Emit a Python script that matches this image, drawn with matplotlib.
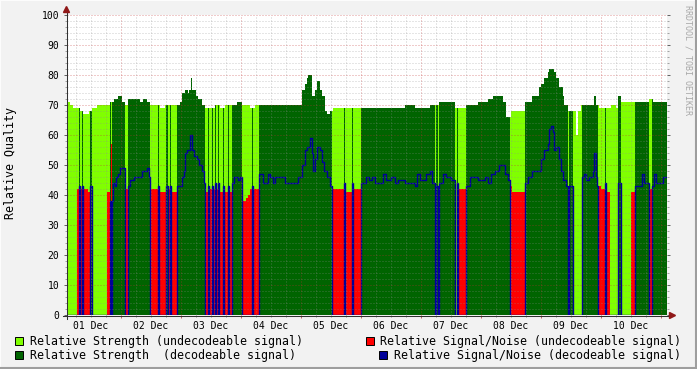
import numpy as np
import matplotlib
matplotlib.use("Agg")
import matplotlib.pyplot as plt
from matplotlib.patches import Rectangle, Polygon
from matplotlib.lines import Line2D
from matplotlib.ticker import MultipleLocator, FuncFormatter, NullFormatter

nan = np.nan

# time axis: hours since 01 Dec 00:00
t_start, t_end = 2.4, 242.4

# relative strength, step values (start hour, value)
strength_steps = [
    (2.4, 71), (3.6, 70), (4.8, 69), (7.6, 68), (8.8, 67), (11.2, 68), (12.4, 69), (14.4, 70),
    (19.6, 71), (21.2, 72), (22.8, 73), (24.4, 71), (25.6, 70), (26.8, 72), (31.6, 71), (32.8, 72),
    (34.4, 71), (35.6, 70), (39.6, 69), (41.6, 70), (47.6, 71),
    (48.4, 74), (49.6, 75), (50.8, 74), (51.2, 75), (52.0, 79), (52.4, 75), (54.0, 73), (54.8, 72),
    (56.4, 70), (57.6, 69), (61.6, 70), (63.6, 69), (65.6, 70), (70.4, 71), (72.4, 70), (75.6, 69), (77.6, 70),
    (96.4, 75), (97.6, 77), (98.4, 79), (98.8, 80), (100.4, 73), (101.6, 75), (102.4, 78), (103.6, 75),
    (104.4, 73), (105.6, 68), (106.4, 67), (107.6, 68), (108.8, 69),
    (137.6, 70), (141.6, 69), (147.6, 70), (151.2, 71), (157.6, 69), (162.0, 70), (166.8, 71), (170.8, 72),
    (172.8, 73), (176.8, 71), (178.0, 66), (180.0, 68), (185.6, 71), (188.4, 73),
    (191.2, 76), (192.0, 77), (193.2, 79), (194.8, 81), (195.2, 82), (197.2, 81), (198.0, 79), (199.2, 76),
    (200.8, 73), (201.2, 70), (202.8, 68), (206.0, 60), (206.8, 68), (208.0, 70), (213.2, 73), (214.0, 70),
    (215.2, 69), (220.0, 70), (222.0, 69), (222.8, 73), (224.0, 71), (235.2, 72), (236.8, 71),
]

# relative signal/noise, step values (start hour, value)
snr_steps = [
    (2.4, nan), (6.4, 42), (7.2, 43), (7.6, 42), (8.4, 43), (8.8, 42), (10.8, 41), (11.6, 43), (12.4, 40),
    (12.8, nan), (18.4, 41),
    (19.6, 38), (20.0, 57), (20.4, 38), (20.8, 44), (21.6, 43), (22.0, 46), (22.8, 47), (23.6, 49), (25.6, 42),
    (26.8, 43), (27.6, 45), (29.2, 46), (32.4, 48), (34.4, 49), (35.2, 46), (35.6, 42), (38.8, 43), (39.2, 41),
    (42.0, 43), (42.8, 42), (43.6, 43), (44.0, 41),
    (46.4, 43), (48.4, 46), (49.2, 48), (49.6, 54), (50.4, 55), (51.6, 60), (52.4, 55), (53.2, 53), (54.4, 52),
    (55.2, 50), (56.4, 48), (57.2, 44),
    (57.6, 41), (58.8, 43), (59.2, 42), (60.4, 43), (60.8, 42), (61.6, 44), (62.0, 42), (62.8, 44), (63.2, 41),
    (64.8, 43), (65.2, 41), (66.8, 43), (67.2, 41),
    (68.4, 44), (69.2, 46), (70.8, 45), (71.6, 46), (72.4, 38), (74.0, 39), (74.8, 40), (75.6, 42), (76.4, 43),
    (76.8, 42),
    (79.2, 47), (80.8, 44), (82.8, 47), (83.6, 46), (84.8, 44), (85.6, 46), (89.6, 44), (94.8, 46), (96.4, 50),
    (97.6, 55), (98.4, 56), (99.6, 59), (100.4, 54), (100.8, 48), (101.6, 52), (102.4, 56), (103.6, 55),
    (104.4, 51), (105.2, 48), (106.4, 46), (107.6, 43),
    (108.4, 42), (113.2, 44), (113.6, 41), (116.4, 44), (116.8, 42),
    (120.0, 44), (122.0, 46), (123.2, 45), (124.4, 46), (125.6, 44), (128.8, 47), (130.0, 45), (132.0, 46),
    (133.6, 44), (134.8, 45), (137.6, 44), (141.6, 43), (142.4, 47), (143.6, 45), (146.0, 47), (147.6, 48),
    (148.4, 44),
    (149.6, nan), (150.0, 43), (150.8, nan), (151.2, 44), (152.8, 47), (154.0, 46), (156.0, 45), (157.6, nan),
    (158.4, 44), (158.8, 42),
    (162.0, 43), (163.6, 46), (166.8, 45), (169.6, 46), (170.8, 44), (172.0, 47), (173.6, 48), (175.2, 50),
    (177.6, 47), (178.8, 45), (179.6, 43), (180.4, 41),
    (185.6, 44), (186.8, 46), (188.4, 48), (192.0, 52), (193.2, 55), (194.8, 57), (195.2, 62), (196.0, 63),
    (196.8, 61), (197.2, 55), (198.0, 56), (199.2, 52), (200.0, 48), (200.8, 45), (202.0, 43),
    (202.8, nan), (203.2, 43), (204.8, nan), (208.4, 46), (209.2, 47), (210.0, 45), (211.2, 46), (212.8, 48),
    (213.2, 54), (214.0, 46), (214.4, 43), (216.0, 42), (217.6, 44), (218.0, 41), (219.6, nan),
    (222.8, 44), (224.0, nan), (228.0, 41), (229.6, 43), (232.4, 47), (233.2, 44), (235.2, 42), (236.4, 43),
    (237.2, 47), (238.0, 44), (240.8, 46),
]

# periods where the signal could not be decoded (start hour, end hour)
undecodeable = [
    (2.4, 7.2), (7.6, 8.4), (8.8, 11.6), (12.4, 19.6), (20.0, 20.4), (25.6, 26.8), (35.6, 38.8),
    (39.2, 42.0), (42.8, 43.6), (44.0, 46.4), (57.6, 58.8), (59.2, 60.4), (60.8, 61.6), (62.0, 62.8),
    (63.2, 64.8), (65.2, 66.8), (67.2, 68.4), (72.4, 76.4), (76.8, 79.2), (108.4, 113.2), (113.6, 116.4),
    (116.8, 120.0), (149.6, 150.0), (150.8, 151.2), (157.6, 158.4), (158.8, 162.0), (179.6, 185.6),
    (202.8, 203.2), (204.8, 208.4), (214.8, 217.6), (218.0, 222.8), (224.0, 229.6), (235.2, 236.4),
]

LGREEN = "#80FF00"
DGREEN = "#006400"
RED = "#FF0000"
BLUE = "#000099"
BG = "#F2F2F2"

W, H = 697, 369


def fx(x):
    return x / W


def fy(y):
    return 1 - y / H


def step_values(steps, t):
    ts = np.array([s[0] for s in steps])
    vs = np.array([s[1] for s in steps], dtype=float)
    idx = np.searchsorted(ts, t + 1e-9, side="right") - 1
    return vs[idx]


edges = set([t_start, t_end])
edges.update(s[0] for s in strength_steps)
edges.update(s[0] for s in snr_steps)
for a, b in undecodeable:
    edges.update([a, b])
edges = np.array(sorted(edges))

strength = step_values(strength_steps, edges)
snr = step_values(snr_steps, edges)
undec = np.zeros(len(edges), dtype=bool)
for a, b in undecodeable:
    undec |= (edges >= a - 1e-9) & (edges < b - 1e-9)

str_undec = np.where(undec, strength, 0)
str_dec = np.where(~undec, strength, 0)
snr_undec = np.where(undec, np.nan_to_num(snr), 0)
snr_dec = np.where(~undec, np.nan_to_num(snr), 0)

plt.rcParams["font.family"] = "DejaVu Sans Mono"

fig = plt.figure(figsize=(W / 100, H / 100), dpi=100, facecolor=BG)
ax = fig.add_axes([fx(67), fy(315), 600 / W, 300 / H])
ax.set_facecolor("white")

ax.fill_between(edges, 0, str_undec, step="post", color=LGREEN, lw=0, antialiased=False, zorder=1)
ax.fill_between(edges, 0, str_dec, step="post", color=DGREEN, lw=0, antialiased=False, zorder=1.1)
ax.fill_between(edges, 0, snr_undec, step="post", color=RED, lw=0, antialiased=False, zorder=1.2)
ax.step(edges, snr_dec, where="post", color=BLUE, lw=1.0, zorder=2)

ax.set_xlim(t_start, t_end)
ax.set_ylim(0, 100)

for s in ax.spines.values():
    s.set_visible(False)


def day_label(h, pos):
    if abs(h % 24 - 12) < 1e-6:
        return f"{int(h // 24) + 1:02d} Dec"
    return ""


ax.xaxis.set_major_locator(MultipleLocator(24))
ax.xaxis.set_minor_locator(MultipleLocator(6))
ax.xaxis.set_major_formatter(NullFormatter())
ax.xaxis.set_minor_formatter(FuncFormatter(day_label))
ax.yaxis.set_major_locator(MultipleLocator(10))
ax.yaxis.set_minor_locator(MultipleLocator(2))

grid_minor = dict(color="#909090", alpha=0.45, lw=0.72, linestyle=(0, (1, 2)))
grid_major = dict(color="#C03030", alpha=0.5, lw=0.72, linestyle=(0, (1, 2)))
ax.set_axisbelow(False)
ax.grid(True, which="minor", **grid_minor)
ax.grid(True, which="major", **grid_major)

ax.tick_params(axis="x", which="minor", length=1.5, width=0.7, color="#909090",
               pad=2.5, labelsize=7)
ax.tick_params(axis="x", which="major", length=2.2, width=0.7, color="#C06060")
ax.tick_params(axis="y", which="major", length=2.2, width=0.7, color="#606060",
               pad=3.2, labelsize=7, right=True)
ax.tick_params(axis="y", which="minor", length=1.5, width=0.7, color="#A0A0A0", right=True)

# axis lines with arrows
fig.lines.append(Line2D([fx(66.5), fx(66.5)], [fy(319), fy(10)], transform=fig.transFigure,
                        color="#303030", lw=0.75, zorder=5))
fig.lines.append(Line2D([fx(63), fx(670)], [fy(315.5), fy(315.5)], transform=fig.transFigure,
                        color="#303030", lw=0.75, zorder=5))
fig.patches.append(Polygon([(fx(66.5), fy(6.5)), (fx(63.5), fy(12.5)), (fx(69.5), fy(12.5))],
                           closed=True, transform=fig.transFigure, color="#901818", zorder=6))
fig.patches.append(Polygon([(fx(675.5), fy(315.5)), (fx(669.5), fy(312.5)), (fx(669.5), fy(318.5))],
                           closed=True, transform=fig.transFigure, color="#901818", zorder=6))

fig.text(fx(11), fy(163), "Relative Quality", rotation=90, ha="center", va="center", fontsize=8.4)
fig.text(fx(688), fy(5), "RRDTOOL / TOBI OETIKER", rotation=270, ha="center", va="top",
         fontsize=6, color="#A8A8A8")

# legend
legend_rows = [
    (15, 337, LGREEN, 30, 341, "Relative Strength (undecodeable signal)"),
    (15, 351, DGREEN, 30, 355, "Relative Strength  (decodeable signal)"),
    (366, 337, RED, 380, 341, "Relative Signal/Noise (undecodeable signal)"),
    (379, 351, BLUE, 394, 355, "Relative Signal/Noise (decodeable signal)"),
]
for bx, by, col, tx, ty, label in legend_rows:
    fig.patches.append(Rectangle((fx(bx), fy(by + 8)), 8 / W, 8 / H, transform=fig.transFigure,
                                 facecolor=col, edgecolor="black", lw=0.7))
    fig.text(fx(tx), fy(ty), label, ha="left", va="center", fontsize=8.4)

# image frame
fig.lines.append(Line2D([0, 0, 1], [0, 1, 1], transform=fig.transFigure, color="#FCFCFC", lw=1.5))
fig.lines.append(Line2D([0, 1, 1], [1 / H, 1 / H, 1], transform=fig.transFigure, color="#9E9E9E", lw=1.5))
fig.lines.append(Line2D([1 - 1 / W, 1 - 1 / W], [0, 1], transform=fig.transFigure, color="#9E9E9E", lw=1.5))

fig.savefig("out.png", dpi=100, facecolor=fig.get_facecolor())
